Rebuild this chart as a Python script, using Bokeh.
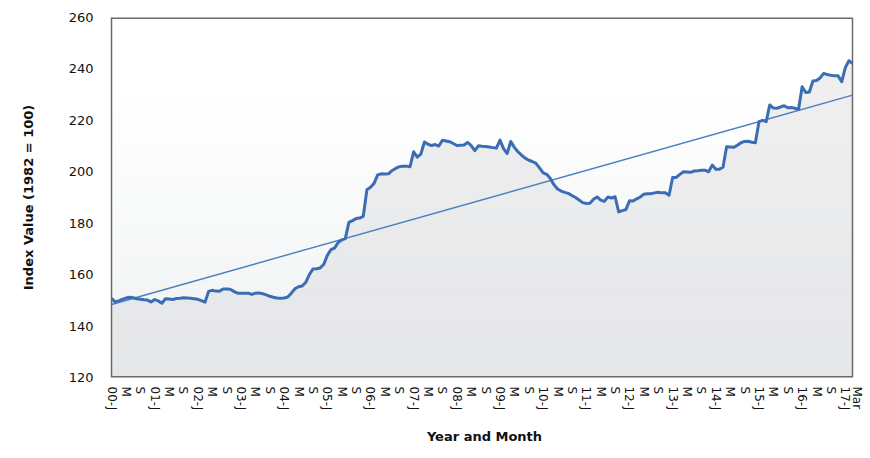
import numpy as np
from bokeh.plotting import figure
from bokeh.models import ColumnDataSource, FixedTicker, Range1d
from bokeh.embed import file_html
from bokeh.resources import INLINE

# ---------------- data ----------------
months_2000 = [150.8, 149.4, 149.8, 150.4, 150.9, 151.2, 151.0, 150.6, 150.4, 150.2, 150.1, 149.4]
months_2001 = [150.3, 149.8, 148.9, 150.6, 150.5, 150.3, 150.7, 150.8, 151.0, 150.9, 150.8, 150.6]
months_2002 = [150.4, 149.9, 149.3, 153.5, 153.9, 153.6, 153.5, 154.4, 154.4, 154.3, 153.5, 152.8]
months_2003 = [152.8, 152.8, 152.8, 152.3, 152.8, 152.9, 152.6, 152.1, 151.6, 151.2, 150.9, 150.8]
months_2004 = [150.9, 151.3, 152.8, 154.5, 155.3, 155.6, 157.0, 160.0, 162.2, 162.3, 162.6, 164.0]
months_2005 = [167.5, 169.7, 170.3, 172.5, 173.5, 174.0, 180.3, 181.0, 181.8, 182.0, 182.7, 193.0]
months_2006 = [194.0, 195.5, 198.8, 199.2, 199.1, 199.2, 200.5, 201.3, 202.0, 202.2, 202.2, 202.0]
months_2007 = [207.8, 205.7, 206.9, 211.6, 210.7, 210.2, 210.6, 210.0, 212.3, 212.0, 211.7, 211.0]
months_2008 = [210.2, 210.3, 210.4, 211.4, 210.2, 208.2, 210.1, 209.9, 209.8, 209.6, 209.4, 209.2]
months_2009 = [212.3, 209.0, 207.1, 211.8, 209.5, 207.8, 206.5, 205.3, 204.5, 204.0, 203.3, 201.5]
months_2010 = [199.6, 199.0, 197.4, 195.0, 193.3, 192.5, 192.0, 191.6, 190.8, 190.0, 189.0, 188.0]
months_2011 = [187.7, 187.8, 189.3, 190.2, 189.0, 188.5, 190.2, 189.8, 190.3, 184.4, 184.9, 185.3]
months_2012 = [188.7, 188.6, 189.5, 190.2, 191.3, 191.5, 191.5, 191.8, 192.0, 191.8, 191.8, 190.9]
months_2013 = [197.8, 197.8, 199.0, 200.0, 199.9, 199.8, 200.3, 200.4, 200.6, 200.6, 200.0, 202.6]
months_2014 = [201.0, 201.0, 201.8, 209.7, 209.6, 209.5, 210.3, 211.3, 211.8, 211.9, 211.5, 211.3]
months_2015 = [219.5, 220.0, 219.5, 226.0, 224.8, 224.7, 225.2, 225.7, 224.9, 225.0, 224.7, 224.2]
months_2016 = [233.1, 230.8, 231.0, 235.3, 235.5, 236.5, 238.3, 237.8, 237.5, 237.3, 237.3, 235.0]
months_2017 = [240.5, 243.2, 242.2]

index_values = (months_2000 + months_2001 + months_2002 + months_2003 + months_2004 +
                months_2005 + months_2006 + months_2007 + months_2008 + months_2009 +
                months_2010 + months_2011 + months_2012 + months_2013 + months_2014 +
                months_2015 + months_2016 + months_2017)
month_index = list(range(len(index_values)))
last = len(index_values) - 1

# linear trend (end points)
trend_x = [0, last]
trend_values = [148.4, 229.8]

# tick labels (the final "Mar" label sits a little right of its month, as in the original)
tick_positions = [0, 4, 8, 12, 16, 20, 24, 28, 32, 36, 40, 44, 48, 52, 56, 60, 64, 68,
                  72, 76, 80, 84, 88, 92, 96, 100, 104, 108, 112, 116, 120, 124, 128,
                  132, 136, 140, 144, 148, 152, 156, 160, 164, 168, 172, 176, 180, 184,
                  188, 192, 196, 200, 204]
tick_labels = ["00-J", "M", "S", "01-J", "M", "S", "02-J", "M", "S", "03-J", "M", "S",
               "04-J", "M", "S", "05-J", "M", "S", "06-J", "M", "S", "07-J", "M", "S",
               "08-J", "M", "S", "09-J", "M", "S", "10-J", "M", "S", "11-J", "M", "S",
               "12-J", "M", "S", "13-J", "M", "S", "14-J", "M", "S", "15-J", "M", "S",
               "16-J", "M", "S", "17-J"]
last_label = "Mar"
y_ticks = [120, 140, 160, 180, 200, 220, 240, 260]
y_min, y_max = 120, 260

# ---------------- figure ----------------
data_px = 741          # width of the plotted months
extra_px = 5           # room to the right so the "Mar" label can sit outside the frame
x_end = last * (data_px + extra_px) / data_px
mar_pos = last + 1.2

p = figure(frame_width=data_px + extra_px, frame_height=360, output_backend="svg",
           toolbar_location=None,
           min_border_left=111, min_border_right=7, min_border_top=17, min_border_bottom=72,
           x_range=Range1d(0, x_end), y_range=Range1d(y_min, y_max))
p.background_fill_color = "white"
p.border_fill_color = "white"
p.outline_line_color = None

# plot-area vertical gradient (white top -> light grey bottom)
n_bands = 40
edges = np.linspace(y_min, y_max, n_bands + 1)
top_rgb = np.array([255, 255, 255])
bot_rgb = np.array([239, 241, 242])
band_colors = []
for k in range(n_bands):
    t = (k + 0.5) / n_bands  # 0 bottom -> 1 top
    c = bot_rgb + (top_rgb - bot_rgb) * min(1.0, t * 1.25)
    band_colors.append("#%02x%02x%02x" % tuple(int(round(v)) for v in c))
p.quad(left=0, right=last, bottom=edges[:-1], top=edges[1:],
       fill_color=band_colors, line_color=None)

src = ColumnDataSource(dict(x=month_index, y=index_values, base=[y_min] * len(index_values)))
p.varea(x="x", y1="base", y2="y", source=src, fill_color="#d2d4d6", fill_alpha=0.36)
p.line(x=trend_x, y=trend_values, line_color="#4a7ec2", line_width=1.4)
p.line(x="x", y="y", source=src, line_color="#3a6db3", line_width=3, line_join="round")

# plot-area border (top, bottom, right) ending at the last month
border_col = "#6a6a6a"
p.segment(x0=[0, 0], y0=[y_max, y_min], x1=[last, last], y1=[y_max, y_min],
          line_color=border_col, line_width=3)
p.segment(x0=[last], y0=[y_min], x1=[last], y1=[y_max], line_color=border_col, line_width=1.5)

p.xgrid.visible = False
p.ygrid.visible = False

# axes
p.yaxis.ticker = FixedTicker(ticks=y_ticks)
p.yaxis.axis_label = "Index Value (1982 = 100)"
p.yaxis.axis_label_text_font = "DejaVu Sans"
p.yaxis.axis_label_text_font_style = "bold"
p.yaxis.axis_label_text_font_size = "13px"
p.yaxis.axis_label_text_color = "#111111"
p.yaxis.axis_label_standoff = 30
p.yaxis.major_label_text_font = "DejaVu Sans"
p.yaxis.major_label_text_font_size = "13px"
p.yaxis.major_label_text_color = "#111111"
p.yaxis.major_label_standoff = 12
p.yaxis.major_tick_line_color = None
p.yaxis.minor_tick_line_color = None
p.yaxis.axis_line_color = border_col
p.yaxis.axis_line_width = 1.5

overrides = {pos: lab for pos, lab in zip(tick_positions, tick_labels)}
overrides[mar_pos] = last_label
p.xaxis.ticker = FixedTicker(ticks=tick_positions + [mar_pos])
p.xaxis.major_label_overrides = overrides
p.xaxis.major_label_orientation = "vertical"
p.xaxis.major_label_text_font = "DejaVu Sans"
p.xaxis.major_label_text_font_size = "12px"
p.xaxis.major_label_text_color = "#111111"
p.xaxis.major_label_standoff = 3
p.xaxis.axis_label = "Year and Month"
p.xaxis.axis_label_text_font = "DejaVu Sans"
p.xaxis.axis_label_text_font_style = "bold"
p.xaxis.axis_label_text_font_size = "13px"
p.xaxis.axis_label_text_color = "#111111"
p.xaxis.axis_label_standoff = 16
p.xaxis.major_tick_line_color = None
p.xaxis.minor_tick_line_color = None
p.xaxis.axis_line_color = None

open("out.html", "w").write(file_html(p, INLINE))
